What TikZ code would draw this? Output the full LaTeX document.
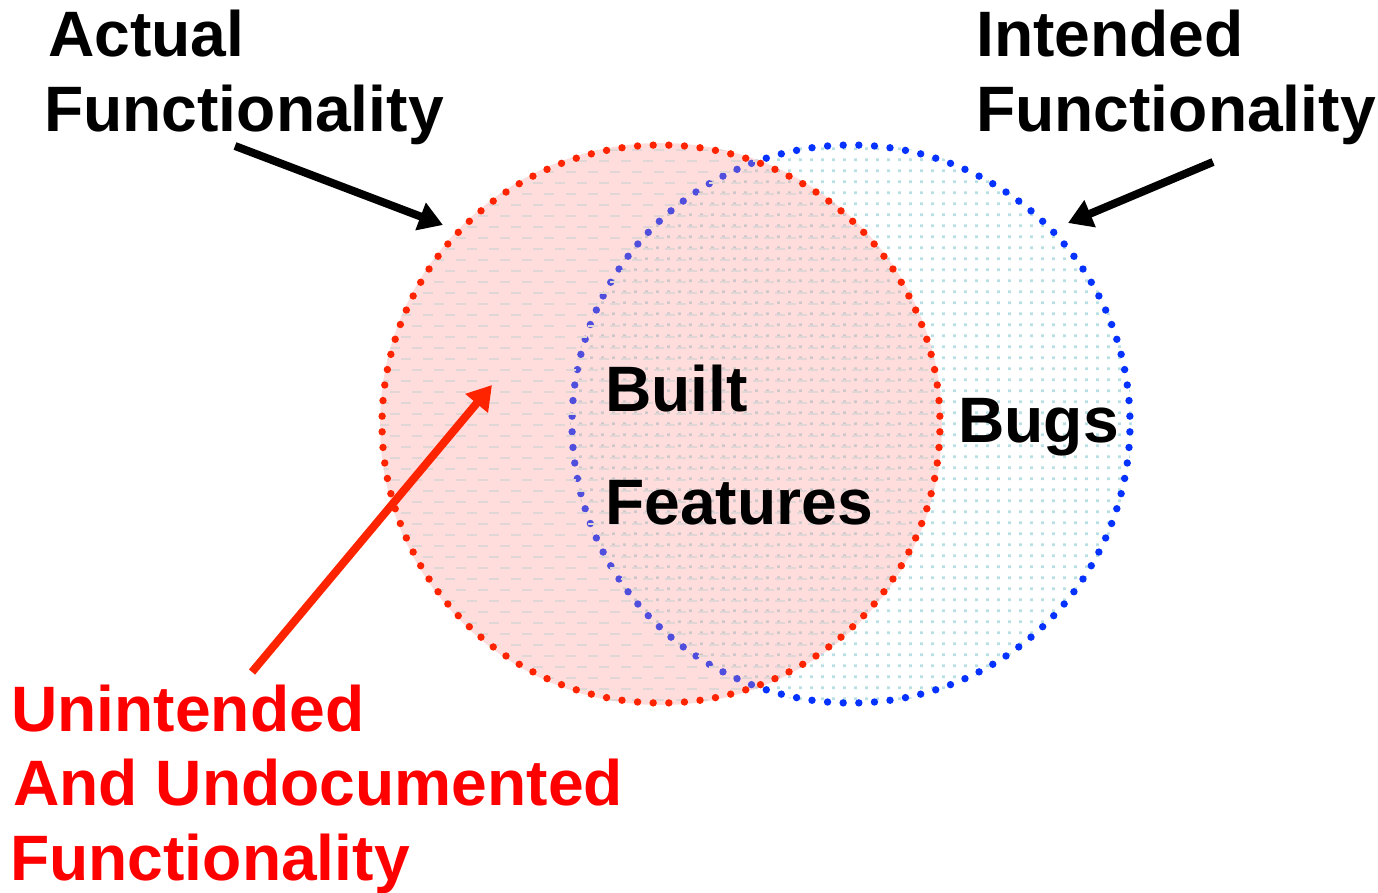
\documentclass[tikz,border=0pt]{standalone}
\usepackage{fontspec}
\setmainfont{Liberation Sans}
\usetikzlibrary{arrows.meta}
\definecolor{dotred}{RGB}{255,36,0}
\definecolor{dotblue}{RGB}{5,50,255}
\definecolor{labelred}{RGB}{255,0,0}
\definecolor{pinkfill}{RGB}{255,144,144}
\definecolor{specks}{RGB}{184,224,228}
\definecolor{dashgray}{RGB}{224,214,214}

\begin{document}
\begin{tikzpicture}[x=1pt,y=-1pt,
  lbl/.style={anchor=base west, inner sep=0pt, font=\fontsize{64.2}{75}\selectfont\bfseries},
  pointer/.style={line width=8pt, -{Triangle[length=24pt,width=28pt]}},
  rim/.style={radius=3.7pt},
]
\useasboundingbox (0,0) rectangle (1378,893);
\coordinate (R) at (661,424);
\coordinate (B) at (851,424);

% intended set: speckled interior
\begin{scope}
  \clip (B) circle (281pt);
  \fill[specks] \foreach \i in {0,...,52}{\foreach \j in {0,...,52}{
      ({568+11*\i}, {136.3+11*\j}) rectangle ++(2.8,2.8)}};
\end{scope}
% intended set: dotted rim
\foreach \k in {0,...,111}
  \fill[dotblue] (B) ++({270+360/112*(\k+0.5)}:279pt) circle[rim];

% actual set: translucent pink with a dashed texture
\fill[pinkfill, fill opacity=0.3] (R) circle (281pt);
\begin{scope}
  \clip (R) circle (281pt);
  \draw[dashgray, line width=2pt] \foreach \j in {-1,...,51}{\foreach \i in {0,...,27}{
      ({368+22*\i+11*mod(\j+2,2)}, {150.3+11*\j}) -- ++(10,0)}};
\end{scope}
% actual set: dotted rim
\foreach \k in {0,...,111}
  \fill[dotred] (R) ++({270+360/112*(\k+0.5)}:279pt) circle[rim];

% labels
\node[lbl] (act1) at (48,57) {Actual};
\node[lbl] (act2) at (44,132) {Functionality};
\node[lbl] (int1) at (976,57) {Intended};
\node[lbl] (int2) at (976,132) {Functionality};
\node[lbl] (built) at (605,411) {Built};
\node[lbl] (feat) at (605,524) {Features};
\node[lbl] (bugs) at (958,442) {Bugs};
\node[lbl, labelred] (un1) at (11,731) {Unintended};
\node[lbl, labelred] (un2) at (13,805) {And Undocumented};
\node[lbl, labelred] (un3) at (10,880) {Functionality};

% pointers
\coordinate (p1s) at (235,146);
\coordinate (p1e) at (443,225);
\coordinate (p2s) at (1213,162);
\coordinate (p2e) at (1068,223);
\coordinate (p3s) at (252,672);
\coordinate (p3e) at (492,385);
\draw[pointer] (p1s) -- (p1e);
\draw[pointer] (p2s) -- (p2e);
\draw[pointer, dotred] (p3s) -- (p3e);
\end{tikzpicture}
\end{document}
